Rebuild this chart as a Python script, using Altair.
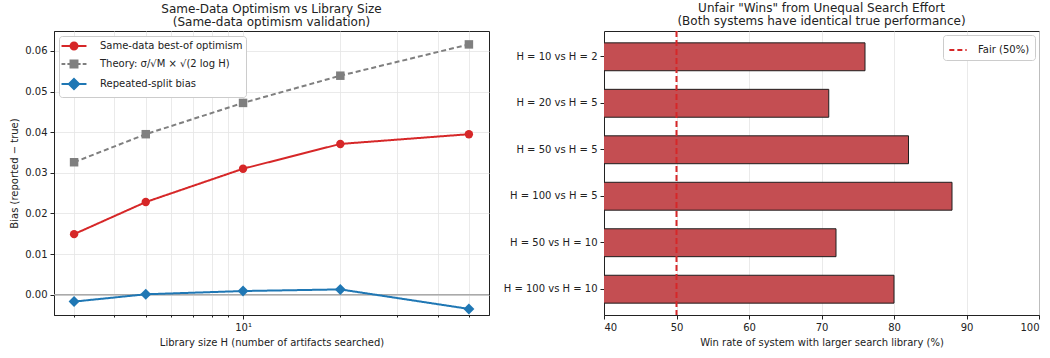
import altair as alt
import pandas as pd

# ---------------- Left panel data ----------------
H_values = [3, 5, 10, 20, 50]
same_data_bias = [0.0149, 0.0228, 0.0310, 0.0371, 0.0395]
theory_bias = [0.0326, 0.0395, 0.0472, 0.0539, 0.0616]
repeated_split_bias = [-0.0017, 0.0001, 0.0009, 0.0013, -0.0035]

series_names = [
    "Same-data best-of optimism",
    "Theory: σ/√M × √(2 log H)",
    "Repeated-split bias",
]
series_colors = ["#d62728", "#7f7f7f", "#1f77b4"]
series_shapes = ["circle", "square", "diamond"]
series_sizes = [70, 72, 120]
series_dashes = [[1, 0], [5, 3], [1, 0]]

x_grid_ticks = [3, 4, 5, 6, 7, 8, 9, 10, 20, 30, 40, 50]
y_ticks = [0.0, 0.01, 0.02, 0.03, 0.04, 0.05, 0.06]

# ---------------- Right panel data ----------------
pairs = [
    "H = 10 vs H = 2",
    "H = 20 vs H = 5",
    "H = 50 vs H = 5",
    "H = 100 vs H = 5",
    "H = 50 vs H = 10",
    "H = 100 vs H = 10",
]
win_rates = [76, 71, 82, 88, 72, 80]
x_ticks_right = [40, 50, 60, 70, 80, 90, 100]
fair_value = [50]
fair_label = ["Fair (50%)"]

FONT = "DejaVu Sans"
TEXT = "#222222"
GRID = "#e4e4e4"


# ---------------- legend symbol paths (line + filled marker drawn by strokes) ----------------
def circ(r):
    return f"M{-r},0A{r},{r},0,1,1,{r},0A{r},{r},0,1,1,{-r},0Z"


def sq(h):
    return f"M{-h},{-h}H{h}V{h}H{-h}Z"


def dia(h):
    return f"M0,{-h}L{h},0L0,{h}L{-h},0Z"


solid_line = "M-2.08,0H2.08"
dashed_line = "M-2.08,0H-1.45M-1.1,0H-0.5M0.5,0H1.1M1.45,0H2.08"
legend_paths = [
    solid_line + "".join(circ(r) for r in (0.58, 0.36, 0.14)),
    dashed_line + "".join(sq(h) for h in (0.58, 0.36, 0.14)),
    solid_line + "".join(dia(h) for h in (0.85, 0.6, 0.35, 0.1)),
]

# ---------------- Left panel ----------------
series_values = [same_data_bias, theory_bias, repeated_split_bias]
long_rows = []
for name, vals in zip(series_names, series_values):
    for h, v in zip(H_values, vals):
        long_rows.append({"series": name, "H": h, "bias": v})
long_df = pd.DataFrame(long_rows)

x_left = alt.X(
    "H:Q",
    scale=alt.Scale(type="log", domain=[2.6, 57.7], nice=False),
    axis=alt.Axis(
        values=x_grid_ticks,
        labelExpr="datum.value == 10 ? '10¹' : ''",
        title="Library size H (number of artifacts searched)",
        grid=True,
        labelOverlap=False,
        labelFlush=False,
        tickSize={"condition": {"test": "datum.value == 10", "value": 4}, "value": 2},
    ),
)
y_left = alt.Y(
    "bias:Q",
    scale=alt.Scale(domain=[-0.0050, 0.0649], nice=False, zero=False),
    axis=alt.Axis(values=y_ticks, format=".2f", title="Bias  (reported − true)", grid=True),
)

zero_line = alt.Chart(pd.DataFrame({"bias": [0.0]})).mark_rule(
    color="#aaaaaa", strokeWidth=1.5
).encode(y=alt.Y("bias:Q"))

layers = [zero_line]
for name, vals, col, shp, sz, dash in zip(
    series_names, series_values, series_colors, series_shapes, series_sizes, series_dashes
):
    df = pd.DataFrame({"H": H_values, "bias": vals})
    layers.append(
        alt.Chart(df).mark_line(color=col, strokeWidth=2, strokeDash=dash).encode(x=x_left, y=y_left)
    )
    layers.append(
        alt.Chart(df).mark_point(filled=True, shape=shp, size=sz, color=col, opacity=1).encode(
            x=x_left, y=y_left
        )
    )

leg = alt.Legend(
    title=None,
    orient="top-left",
    offset=5,
    fillColor="white",
    strokeColor="#cccccc",
    cornerRadius=3,
    padding=3,
    symbolSize=144,
    symbolStrokeWidth=2,
    symbolOffset=5,
    labelOffset=19,
    labelFontSize=10,
    labelColor=TEXT,
    labelFont=FONT,
    rowPadding=2,
)
legend_layer = alt.Chart(long_df).mark_point(filled=False, opacity=0).encode(
    x=x_left,
    y=y_left,
    color=alt.Color("series:N", scale=alt.Scale(domain=series_names, range=series_colors), legend=leg),
    shape=alt.Shape("series:N", scale=alt.Scale(domain=series_names, range=legend_paths), legend=leg),
)
layers.append(legend_layer)

left = alt.layer(*layers).properties(
    width=435,
    height=284,
    title=alt.TitleParams(
        ["Same-Data Optimism vs Library Size", "(Same-data optimism validation)"]
    ),
)

# ---------------- Right panel ----------------
bar_df = pd.DataFrame({"pair": pairs, "rate": win_rates})
bars = alt.Chart(bar_df).mark_bar(
    color="#c44e52", stroke="#1e1e1e", strokeWidth=1, clip=True
).encode(
    y=alt.Y(
        "pair:N",
        sort=pairs,
        scale=alt.Scale(paddingInner=0.4, paddingOuter=0.255),
        axis=alt.Axis(title=None, grid=False, labelPadding=3),
    ),
    x=alt.X(
        "rate:Q",
        scale=alt.Scale(domain=[40, 100], nice=False, zero=False),
        axis=alt.Axis(values=x_ticks_right, title="Win rate of system with larger search library (%)", grid=True),
    ),
)
fair_df = pd.DataFrame({"rate": fair_value, "label": fair_label})
fair_rule = alt.Chart(fair_df).mark_rule(strokeDash=[6, 3], strokeWidth=2).encode(
    x=alt.X("rate:Q"),
    stroke=alt.Stroke(
        "label:N",
        scale=alt.Scale(domain=fair_label, range=["#d62728"]),
        legend=alt.Legend(
            title=None,
            orient="top-right",
            offset=4,
            fillColor="white",
            strokeColor="#cccccc",
            cornerRadius=3,
            padding=5,
            symbolType="stroke",
            symbolDash=[5, 3],
            symbolStrokeWidth=2,
            symbolSize=300,
            labelOffset=10,
            labelFontSize=10,
            labelColor=TEXT,
        ),
    ),
)
right = alt.layer(bars, fair_rule).properties(
    width=435,
    height=284,
    title=alt.TitleParams(
        ['Unfair "Wins" from Unequal Search Effort', "(Both systems have identical true performance)"]
    ),
)

chart = (
    alt.hconcat(left, right, spacing=11)
    .resolve_scale(x="independent", y="independent")
    .resolve_legend(color="independent", shape="independent", stroke="independent")
    .configure(font=FONT, padding={"left": 9, "top": 1, "right": 5, "bottom": 2})
    .configure_view(stroke="#222222", strokeWidth=1)
    .configure_axis(
        labelFont=FONT,
        titleFont=FONT,
        labelFontSize=10,
        titleFontSize=10,
        titleFontWeight="normal",
        labelColor=TEXT,
        titleColor=TEXT,
        tickColor=TEXT,
        domainColor="#222222",
        gridColor=GRID,
        gridWidth=0.8,
        tickSize=4,
        labelPadding=3,
        titlePadding=5,
    )
    .configure_title(
        font=FONT, fontSize=12, fontWeight="normal", color=TEXT, anchor="middle", offset=2, lineHeight=13
    )
)

chart.save("out.html", embed_options={"renderer": "svg", "actions": False})
